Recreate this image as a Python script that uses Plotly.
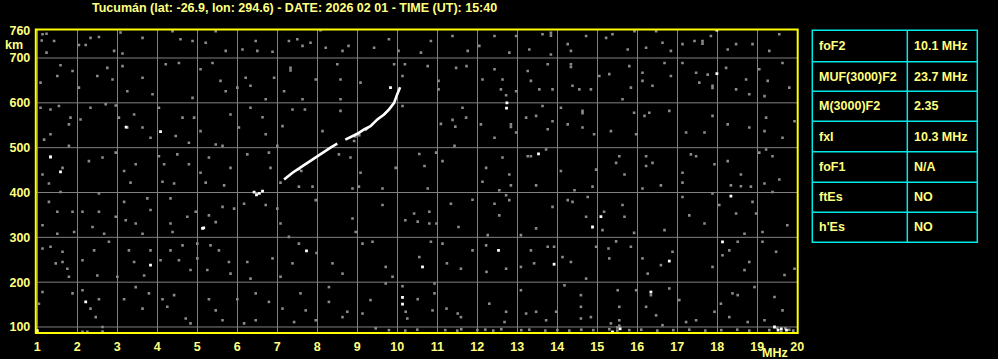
import plotly.graph_objects as go

W, H = 998, 359

# ---------------- data ----------------
title_text = "Tucumán (lat: -26.9, lon: 294.6) - DATE: 2026 02 01 - TIME (UT): 15:40"
x_ticks = list(range(1, 21))
y_ticks = [100, 200, 300, 400, 500, 600, 700, 760]
y_grid = [100, 200, 300, 400, 500, 600, 700]

table_labels = ["foF2", "MUF(3000)F2", "M(3000)F2", "fxI", "foF1", "ftEs", "h'Es"]
table_values = ["10.1 MHz", "23.7 MHz", "2.35", "10.3 MHz", "N/A", "NO", "NO"]

# main O-trace (MHz, km)
trace_f = [7.17, 7.38, 7.63, 7.88, 8.13, 8.33, 8.50]
trace_h = [429, 444, 459, 474, 489, 500, 509]
trace2_f = [8.70, 8.79, 9.00, 9.17, 9.33, 9.50, 9.67, 9.79, 9.92, 9.98, 10.03, 10.07]
trace2_h = [518, 522, 531, 541, 548, 563, 574, 585, 600, 615, 626, 635]
# fainter secondary branch
xtrace_f = [9.20, 9.38, 9.54, 9.70, 9.85]
xtrace_h = [538, 552, 566, 578, 592]

# isolated bright echoes
white_f = [1.33, 1.58, 3.22, 4.08, 9.83, 6.42, 6.48, 6.63, 6.55, 5.13, 5.16, 3.83, 7.73, 2.21,
           10.13, 10.13, 1.00, 17.99, 17.99, 12.74, 12.73, 13.53, 10.63, 12.53, 13.92, 15.09,
           14.88, 16.80, 18.13, 18.34, 16.34, 15.38, 15.57, 19.43, 19.52, 19.73, 19.60]
white_h = [479, 446, 546, 536, 634, 401, 395, 403, 398, 320, 321, 238, 270, 156,
           166, 151, 92, 762, 665, 600, 588, 486, 234, 271, 240, 346,
           323, 247, 290, 392, 178, 89, 96, 100, 93, 93, 96]

# background noise dots (MHz, km)
noise_f = [
    1.11, 1.23, 1.13, 1.42, 1.23, 2.04, 2.21, 2.33, 2.54, 3.08, 2.92, 3.13, 3.63, 4.38, 4.58,
    4.88, 5.21, 5.46, 5.71, 6.13, 6.46, 6.50, 6.88, 7.29, 7.50, 7.63, 7.83, 8.08, 8.21, 8.63,
    8.78, 9.42, 9.79, 10.03,
    1.08, 1.58, 1.88, 1.50, 2.04, 2.50, 2.75, 2.88, 3.13, 3.25, 3.63, 3.88, 4.21, 4.54, 4.88,
    5.08, 5.38, 5.58, 5.71, 6.00, 6.21, 6.33, 6.71, 6.92, 7.33, 7.33, 7.17, 7.63, 7.96, 8.50,
    8.58, 9.08, 8.58, 9.92, 10.19, 10.13,
    1.08, 1.33, 1.54, 1.83, 1.79, 1.33, 1.17, 2.33, 2.08, 2.71, 2.96, 3.04, 3.25, 3.42, 3.63,
    3.83, 4.04, 4.46, 4.63, 4.92, 4.79, 5.08, 5.46, 5.83, 6.04, 6.33, 6.63, 6.71, 7.13, 7.38,
    7.69, 8.13, 8.58, 8.92, 10.13,
    1.33, 1.79, 1.63, 1.13, 2.29, 2.63, 2.96, 3.17, 3.46, 4.04, 4.17, 4.50, 4.79, 5.08, 5.29,
    5.63, 5.83, 6.25, 6.79, 6.83, 7.00, 8.54, 8.83, 9.08, 9.96, 7.55, 7.60, 8.95, 9.05,
    10.59, 10.84, 11.38, 11.76, 12.05, 12.43, 12.80, 12.97, 13.30, 13.63, 13.84, 13.84, 13.84,
    14.26, 14.34, 14.72, 15.22, 15.38, 15.76, 15.93, 16.22, 16.47, 16.63, 16.84, 17.13, 17.43,
    17.63, 17.63, 17.84, 18.26, 18.47, 18.88, 19.30, 19.55,
    10.76, 11.03, 11.03, 11.47, 11.73, 12.13, 12.43, 12.63, 12.59, 12.97, 13.26, 13.34, 13.55,
    13.88, 13.76, 14.34, 14.34, 14.38, 14.55, 14.84, 15.05, 15.30, 15.63, 15.80, 15.84, 16.13,
    16.13, 16.38, 16.68, 16.84, 17.13, 17.47, 17.55, 17.76, 17.88, 17.88, 18.22, 18.47, 18.72,
    18.80, 19.05, 19.18, 19.26, 19.63, 19.80,
    11.09, 11.38, 11.45, 11.63, 11.72, 12.09, 12.43, 12.72, 12.84, 12.84, 12.97, 13.22, 13.47,
    13.63, 13.76, 13.88, 14.09, 14.26, 14.63, 14.63, 14.63, 14.92, 15.34, 15.92, 15.97, 16.18,
    16.30, 16.80, 17.22, 17.68, 17.88, 18.26, 18.80, 19.22, 19.18, 19.63, 19.93,
    10.55, 10.68, 10.97, 11.13, 11.43, 12.22, 12.63, 12.80, 13.26, 13.34, 13.72, 14.09, 14.97,
    15.47, 15.55, 15.68, 16.22, 16.22, 16.38, 17.13, 17.34, 17.47, 17.93, 18.26, 18.59, 19.05,
    19.22, 19.38, 19.55,
    1.29, 1.58, 2.54, 3.33, 4.13, 4.42, 5.21, 5.67, 7.08, 7.54, 7.88, 8.88, 9.04, 9.63,
    1.29, 1.50, 1.88, 1.13, 1.50, 1.92, 2.13, 2.54, 2.38, 2.67, 2.96, 3.17, 3.21, 3.46, 3.63,
    3.75, 3.83, 4.33, 4.33, 4.38, 4.75, 4.96, 5.29, 5.46, 5.63, 5.92, 6.17, 6.71, 7.00, 7.08,
    7.29, 7.96, 8.88, 8.96, 9.63, 10.20, 10.42,
    1.13, 1.33, 1.63, 1.63, 1.75, 1.46, 1.79, 2.13, 2.42, 2.50, 2.79, 3.00, 3.29, 3.42, 3.67,
    3.83, 4.08, 4.33, 4.54, 4.63, 4.83, 5.00, 5.00, 5.25, 5.33, 5.54, 5.79, 5.83, 6.25, 6.33,
    6.88, 7.08, 7.38, 7.54, 7.98, 8.38, 8.63, 9.13, 9.38, 9.71, 9.88,
    1.13, 1.04, 1.88, 2.13, 2.54, 2.33, 2.46, 2.63, 3.17, 3.46, 3.63, 3.79, 4.13, 4.25, 4.42,
    4.71, 4.83, 5.29, 5.46, 5.63, 6.00, 6.17, 6.46, 6.46, 6.79, 7.13, 7.42, 7.58, 7.71, 7.96,
    8.29, 8.29, 8.63, 8.75, 9.13, 9.33, 9.71, 10.13, 10.21, 10.25, 9.46, 9.79, 2.13, 2.25, 2.63,
    10.76, 12.13, 12.55, 12.84, 13.47, 14.43, 14.88, 16.13, 16.59, 17.13, 18.34, 18.59, 18.84,
    19.18, 19.38,
    10.80, 10.51, 10.80, 10.98, 11.34, 11.53, 11.88, 12.26, 12.43, 12.55, 12.72, 12.80, 13.09,
    13.47, 13.88, 14.26, 14.38, 14.76, 14.72, 15.17, 15.13, 15.63, 15.68, 15.92, 16.68, 17.13,
    17.30, 17.68, 17.88, 18.05, 18.47, 18.68, 18.88, 18.97, 19.13, 19.75,
    10.55, 10.84, 11.13, 11.24, 11.59, 11.88, 12.22, 12.23, 12.72, 13.09, 13.34, 13.42, 13.76,
    13.92, 14.13, 14.34, 14.72, 14.97, 15.28, 15.30, 15.47, 15.84, 16.13, 16.26, 16.59, 16.88,
    17.88, 18.13, 18.30, 18.51, 18.68, 18.80, 19.13, 19.47, 19.68, 19.93,
    10.93, 10.51, 10.93, 10.88, 11.23, 11.51, 11.59, 12.30, 12.72, 12.68, 13.09, 13.22, 13.47,
    13.72, 13.97, 14.18, 14.59, 14.59, 14.59, 14.84, 15.34, 15.51, 15.55, 15.55, 15.97, 16.22,
    16.34, 16.47, 16.63, 16.80, 17.05, 17.22, 17.47, 17.93, 18.09, 18.30, 18.38, 18.51, 18.76,
    18.93, 19.18, 19.43, 19.63,
    11.20, 11.50, 11.60, 12.00, 12.20, 12.40, 12.60, 13.10, 13.30, 13.70, 14.00, 14.30, 14.60,
    14.90, 15.30, 15.50, 15.80, 16.10, 16.50, 16.90, 17.30, 17.70, 18.10, 18.50, 18.80, 19.30,
    19.60, 19.80, 19.90, 15.55, 15.50, 19.50, 19.70, 10.20, 10.50,
]
noise_h = [
    739, 754, 753, 738, 712, 729, 729, 745, 747, 757, 716, 710, 745, 760, 742,
    738, 734, 760, 716, 719, 738, 716, 714, 738, 742, 727, 734, 762, 723, 716,
    727, 723, 742, 716,
    645, 684, 671, 660, 634, 660, 678, 652, 682, 626, 656, 619, 686, 689, 611,
    675, 689, 649, 626, 634, 656, 638, 608, 656, 678, 672, 626, 608, 652, 686,
    652, 645, 608, 686, 686, 660,
    589, 585, 593, 567, 552, 530, 518, 589, 563, 597, 594, 567, 545, 574, 545,
    522, 589, 526, 567, 567, 511, 537, 507, 574, 545, 589, 568, 530, 548, 585,
    585, 537, 582, 515, 593,
    481, 504, 455, 440, 470, 478, 489, 448, 463, 481, 463, 485, 463, 444, 478,
    504, 455, 485, 489, 455, 504, 485, 478, 444, 455, 452, 448, 525, 528,
    712, 738, 749, 716, 727, 749, 712, 749, 719, 753, 756, 750, 708,
    731, 716, 749, 745, 753, 719, 760, 723, 760, 734, 716, 731, 738,
    738, 732, 749, 719, 731, 731, 716, 753,
    682, 649, 630, 678, 682, 652, 675, 652, 630, 626, 671, 649, 630,
    630, 686, 686, 680, 638, 630, 630, 660, 664, 608, 682, 634, 667,
    649, 638, 689, 660, 689, 667, 645, 663, 638, 633, 678, 630, 652,
    619, 675, 615, 649, 689, 634,
    553, 562, 547, 589, 567, 552, 522, 617, 552, 546, 534, 567, 571,
    593, 541, 559, 589, 552, 582, 577, 545, 530, 537, 578, 530, 571,
    578, 582, 534, 534, 571, 552, 545, 567, 537, 522, 559,
    486, 459, 489, 470, 504, 455, 478, 440, 481, 481, 496, 448, 451,
    466, 481, 440, 481, 459, 466, 444, 485, 481, 463, 470, 440, 489,
    496, 481, 429,
    420, 401, 398, 422, 424, 420, 422, 416, 422, 413, 413, 409, 413, 409,
    379, 357, 357, 327, 308, 312, 357, 357, 323, 308, 346, 379, 338, 331, 308,
    387, 361, 387, 331, 312, 346, 357, 349, 334, 368, 364, 375, 372, 364, 331,
    301, 383, 342, 312, 372, 338, 353,
    275, 279, 268, 245, 230, 242, 212, 249, 271, 215, 290, 212, 271, 245, 215,
    271, 249, 271, 249, 282, 227, 286, 253, 227, 282, 271, 245, 219, 245, 208,
    253, 212, 242, 286, 265, 242, 219, 286, 290, 234, 212,
    178, 152, 175, 182, 162, 141, 122, 100, 162, 189, 141, 175, 162, 145, 171,
    119, 108, 162, 137, 115, 162, 108, 175, 115, 156, 141, 111, 175, 137, 115,
    156, 189, 122, 134, 130, 160, 197, 191, 134, 119, 97, 93, 89, 89, 90,
    409, 424, 405, 416, 416, 405, 413, 409, 416, 422, 416, 414, 413,
    420, 401,
    357, 335, 331, 331, 375, 323, 384, 305, 375, 349, 394, 383, 305,
    320, 368, 383, 379, 390, 346, 357, 316, 372, 346, 310, 316, 390,
    349, 331, 398, 372, 353, 308, 379, 353, 312, 327,
    256, 290, 286, 242, 230, 271, 282, 223, 230, 234, 271, 242, 279,
    279, 256, 245, 208, 279, 275, 253, 291, 279, 253, 219, 238, 268,
    234, 260, 271, 290, 227, 245, 290, 268, 216, 230,
    197, 162, 175, 137, 141, 130, 122, 152, 134, 111, 182, 130, 134,
    115, 134, 193, 171, 145, 119, 122, 108, 182, 145, 115, 182, 145,
    171, 126, 104, 186, 160, 111, 115, 134, 152, 122, 175, 171, 111,
    189, 115, 167, 137,
    93, 92, 95, 93, 94, 92, 95, 93, 94, 92, 93, 92, 94,
    93, 95, 92, 93, 94, 92, 93, 94, 92, 93, 94, 92, 93,
    90, 94, 92, 103, 99, 98, 97, 92, 94,
]

# ---------------- style ----------------
BG = "#000000"
YEL_TXT = "#ffff80"
YEL_LINE = "#ffff00"
CYAN = "#00e8e8"
GRID = "#808080"
FONT = "Liberation Sans"

x_dom = [35.8 / W, 797.7 / W]
y_dom = [1 - 333.0 / H, 1 - 29.5 / H]

fig = go.Figure()

fig.add_trace(go.Scatter(
    x=noise_f, y=noise_h, mode="markers",
    marker=dict(symbol="square", size=2.6, color="#8a8a8a", line=dict(width=0)),
    hoverinfo="skip", showlegend=False))

fig.add_trace(go.Scatter(
    x=xtrace_f, y=xtrace_h, mode="lines",
    line=dict(color="#c8c8c8", width=1.5), hoverinfo="skip", showlegend=False))

fig.add_trace(go.Scatter(
    x=trace_f, y=trace_h, mode="lines",
    line=dict(color="#ffffff", width=2.6), hoverinfo="skip", showlegend=False))

fig.add_trace(go.Scatter(
    x=trace2_f, y=trace2_h, mode="lines",
    line=dict(color="#ffffff", width=2.6), hoverinfo="skip", showlegend=False))

fig.add_trace(go.Scatter(
    x=white_f, y=white_h, mode="markers",
    marker=dict(symbol="square", size=2.8, color="#ffffff", line=dict(width=0)),
    hoverinfo="skip", showlegend=False))

axis_font = dict(family=FONT, size=12.5, color=YEL_TXT, weight="bold")
fig.update_xaxes(
    domain=x_dom, range=[0.962, 20.01], automargin=False,
    tickvals=x_ticks, ticktext=[str(v) for v in x_ticks],
    showgrid=True, gridcolor=GRID, gridwidth=1,
    zeroline=False, showline=False,
    ticks="outside", ticklen=2, tickcolor=BG,
    tickfont=axis_font,
    fixedrange=True,
)
fig.update_yaxes(
    domain=y_dom, range=[86.6, 763.6], automargin=False,
    tickvals=y_ticks, ticktext=[str(v) for v in y_ticks],
    showgrid=False, zeroline=False, showline=False,
    ticks="outside", ticklen=2, tickcolor=BG,
    tickfont=axis_font,
    fixedrange=True,
)

shapes = []
# horizontal grid lines
for g in y_grid:
    shapes.append(dict(type="line", xref="x", yref="y", x0=0.962, x1=20.01, y0=g, y1=g,
                       line=dict(color=GRID, width=1), layer="below"))
# yellow frame
shapes.append(dict(type="rect", xref="paper", yref="paper",
                   x0=x_dom[0], x1=x_dom[1], y0=y_dom[0], y1=y_dom[1],
                   line=dict(color=YEL_LINE, width=2)))

# table
tx0, tx1, tcol = 812.3, 977.3, 907.3
row_edges = [30.3, 61.7, 91.3, 121.3, 151.7, 182.3, 212.3, 242.3]
def px(x):
    return x / W
def py(y):
    return 1 - y / H
shapes.append(dict(type="rect", xref="paper", yref="paper",
                   x0=px(tx0), x1=px(tx1), y0=py(row_edges[-1]), y1=py(row_edges[0]),
                   line=dict(color=CYAN, width=1.5)))
shapes.append(dict(type="line", xref="paper", yref="paper",
                   x0=px(tcol), x1=px(tcol), y0=py(row_edges[-1]), y1=py(row_edges[0]),
                   line=dict(color=CYAN, width=1.5)))
for ry in row_edges[1:-1]:
    shapes.append(dict(type="line", xref="paper", yref="paper",
                       x0=px(tx0), x1=px(tx1), y0=py(ry), y1=py(ry),
                       line=dict(color=CYAN, width=1.5)))

annotations = []
tfont = dict(family=FONT, size=12.5, color=YEL_TXT, weight="bold")
for i, (lab, val) in enumerate(zip(table_labels, table_values)):
    yc = (row_edges[i] + row_edges[i + 1]) / 2
    annotations.append(dict(xref="paper", yref="paper", x=px(816.5), y=py(yc),
                            text=lab, showarrow=False, xanchor="left", yanchor="middle",
                            font=tfont))
    annotations.append(dict(xref="paper", yref="paper", x=px(911.5), y=py(yc),
                            text=val, showarrow=False, xanchor="left", yanchor="middle",
                            font=tfont))

annotations.append(dict(xref="paper", yref="paper", x=px(294.5), y=py(7.5),
                        text=title_text, showarrow=False, xanchor="center", yanchor="middle",
                        font=tfont))
annotations.append(dict(xref="paper", yref="paper", x=px(14), y=py(45),
                        text="km", showarrow=False, xanchor="center", yanchor="middle",
                        font=tfont))
annotations.append(dict(xref="paper", yref="paper", x=px(788.5), y=py(352.5),
                        text="MHz", showarrow=False, xanchor="right", yanchor="middle",
                        font=tfont, borderpad=0))

fig.update_layout(
    width=W, height=H,
    margin=dict(l=0, r=0, t=0, b=0, pad=0),
    paper_bgcolor=BG, plot_bgcolor=BG,
    shapes=shapes, annotations=annotations,
    showlegend=False,
)

fig.write_html("out.html", include_plotlyjs=True, config={"displayModeBar": False})
